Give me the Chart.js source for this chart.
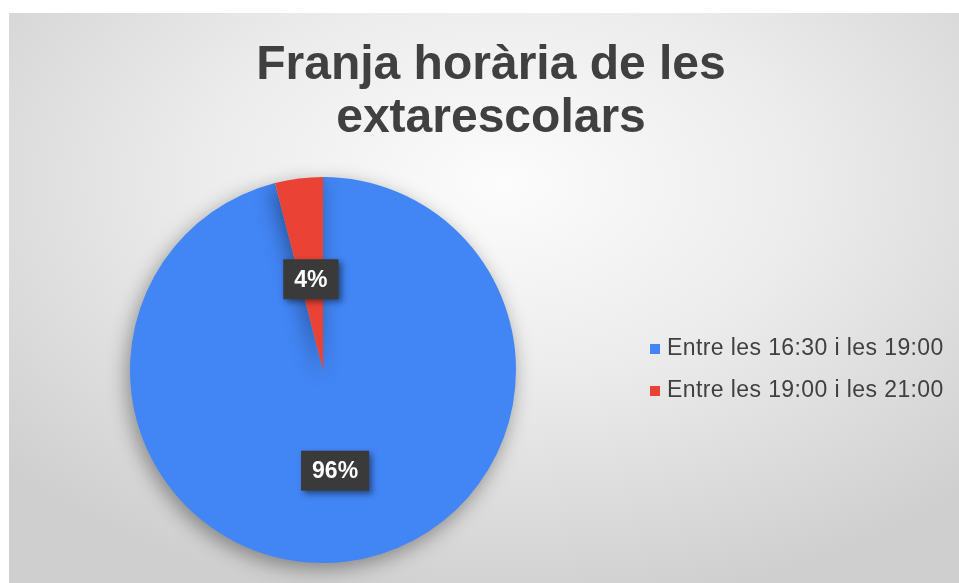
<!DOCTYPE html>
<html>
<head>
<meta charset="utf-8">
<script src="https://cdn.jsdelivr.net/npm/chart.js@4/dist/chart.umd.min.js"></script>
<style>
    html, body { margin: 0; padding: 0; background: #ffffff; }
    #wrap {
        position: absolute;
        left: 9px; top: 13px;
        width: 950px; height: 570px;
        background: radial-gradient(ellipse 70% 75% at 52% 30%, #fcfcfc 0%, #ececec 45%, #cfcfcf 100%);
    }
</style>
</head>
<body>
<div id="wrap"><canvas id="pieChart" width="950" height="570"></canvas></div>
<script>
// chart data
const titleLines = ['Franja horària de les', 'extarescolars'];
const categories = ['Entre les 16:30 i les 19:00', 'Entre les 19:00 i les 21:00'];
const percentages = [96, 4];
const sliceColors = ['#4285f4', '#ea4335'];

const FONT = '"Liberation Sans", Arial, sans-serif';

// soft shadow under the pie
const pieShadow = {
    id: 'pieShadow',
    beforeDatasetsDraw(chart) {
        const ctx = chart.ctx;
        ctx.save();
        ctx.shadowColor = 'rgba(0,0,0,0.38)';
        ctx.shadowBlur = 20;
        ctx.shadowOffsetX = -3;
        ctx.shadowOffsetY = 6;
    },
    afterDatasetsDraw(chart) {
        chart.ctx.restore();
    }
};

// title is centred on the whole chart, not on the pie area
const chartTitle = {
    id: 'chartTitle',
    afterDraw(chart) {
        const ctx = chart.ctx;
        ctx.save();
        ctx.font = 'bold 48px ' + FONT;
        ctx.fillStyle = '#404040';
        ctx.textAlign = 'center';
        ctx.textBaseline = 'middle';
        titleLines.forEach((line, i) => {
            ctx.fillText(line, chart.width / 2 + 7, 53 + i * 53);
        });
        ctx.restore();
    }
};

// legend to the right of the pie, centred on it vertically
const sideLegend = {
    id: 'sideLegend',
    afterDraw(chart) {
        const ctx = chart.ctx;
        const area = chart.chartArea;
        const x = area.right + 13;
        const midY = (area.top + area.bottom) / 2;
        const rowGap = 42;
        ctx.save();
        ctx.font = '23px ' + FONT;
        ctx.letterSpacing = '0.4px';
        ctx.textBaseline = 'middle';
        categories.forEach((label, i) => {
            const y = midY + (i - (categories.length - 1) / 2) * rowGap;
            ctx.fillStyle = sliceColors[i];
            ctx.fillRect(x, y - 5, 10, 10);
            ctx.fillStyle = '#404040';
            ctx.fillText(label, x + 17, y);
        });
        ctx.restore();
    }
};

// dark boxed percentage labels
const boxLabels = {
    id: 'boxLabels',
    afterDraw(chart) {
        const ctx = chart.ctx;
        const meta = chart.getDatasetMeta(0);
        ctx.save();
        ctx.font = 'bold 23px ' + FONT;
        ctx.textAlign = 'center';
        ctx.textBaseline = 'middle';
        meta.data.forEach((arc, i) => {
            const pos = arc.tooltipPosition();
            const text = percentages[i] + '%';
            const w = ctx.measureText(text).width + 22;
            const h = 40;
            ctx.save();
            ctx.shadowColor = 'rgba(0,0,0,0.45)';
            ctx.shadowBlur = 6;
            ctx.shadowOffsetX = 3;
            ctx.shadowOffsetY = 3;
            ctx.fillStyle = '#3a3a3a';
            ctx.fillRect(pos.x - w / 2, pos.y + 5 - h / 2, w, h);
            ctx.restore();
            ctx.fillStyle = '#ffffff';
            ctx.fillText(text, pos.x, pos.y + 6);
        });
        ctx.restore();
    }
};

const ctx = document.getElementById('pieChart').getContext('2d');
const pieChart = new Chart(ctx, {
    type: 'pie',
    data: {
        labels: categories,
        datasets: [{
            data: percentages,
            backgroundColor: sliceColors,
            borderWidth: 0
        }]
    },
    options: {
        responsive: false,
        animation: false,
        layout: { padding: { left: 0, right: 322, top: 164, bottom: 20 } },
        plugins: {
            title: { display: false },
            legend: { display: false },
            tooltip: { enabled: false }
        }
    },
    plugins: [pieShadow, chartTitle, sideLegend, boxLabels]
});
</script>
</body>
</html>
